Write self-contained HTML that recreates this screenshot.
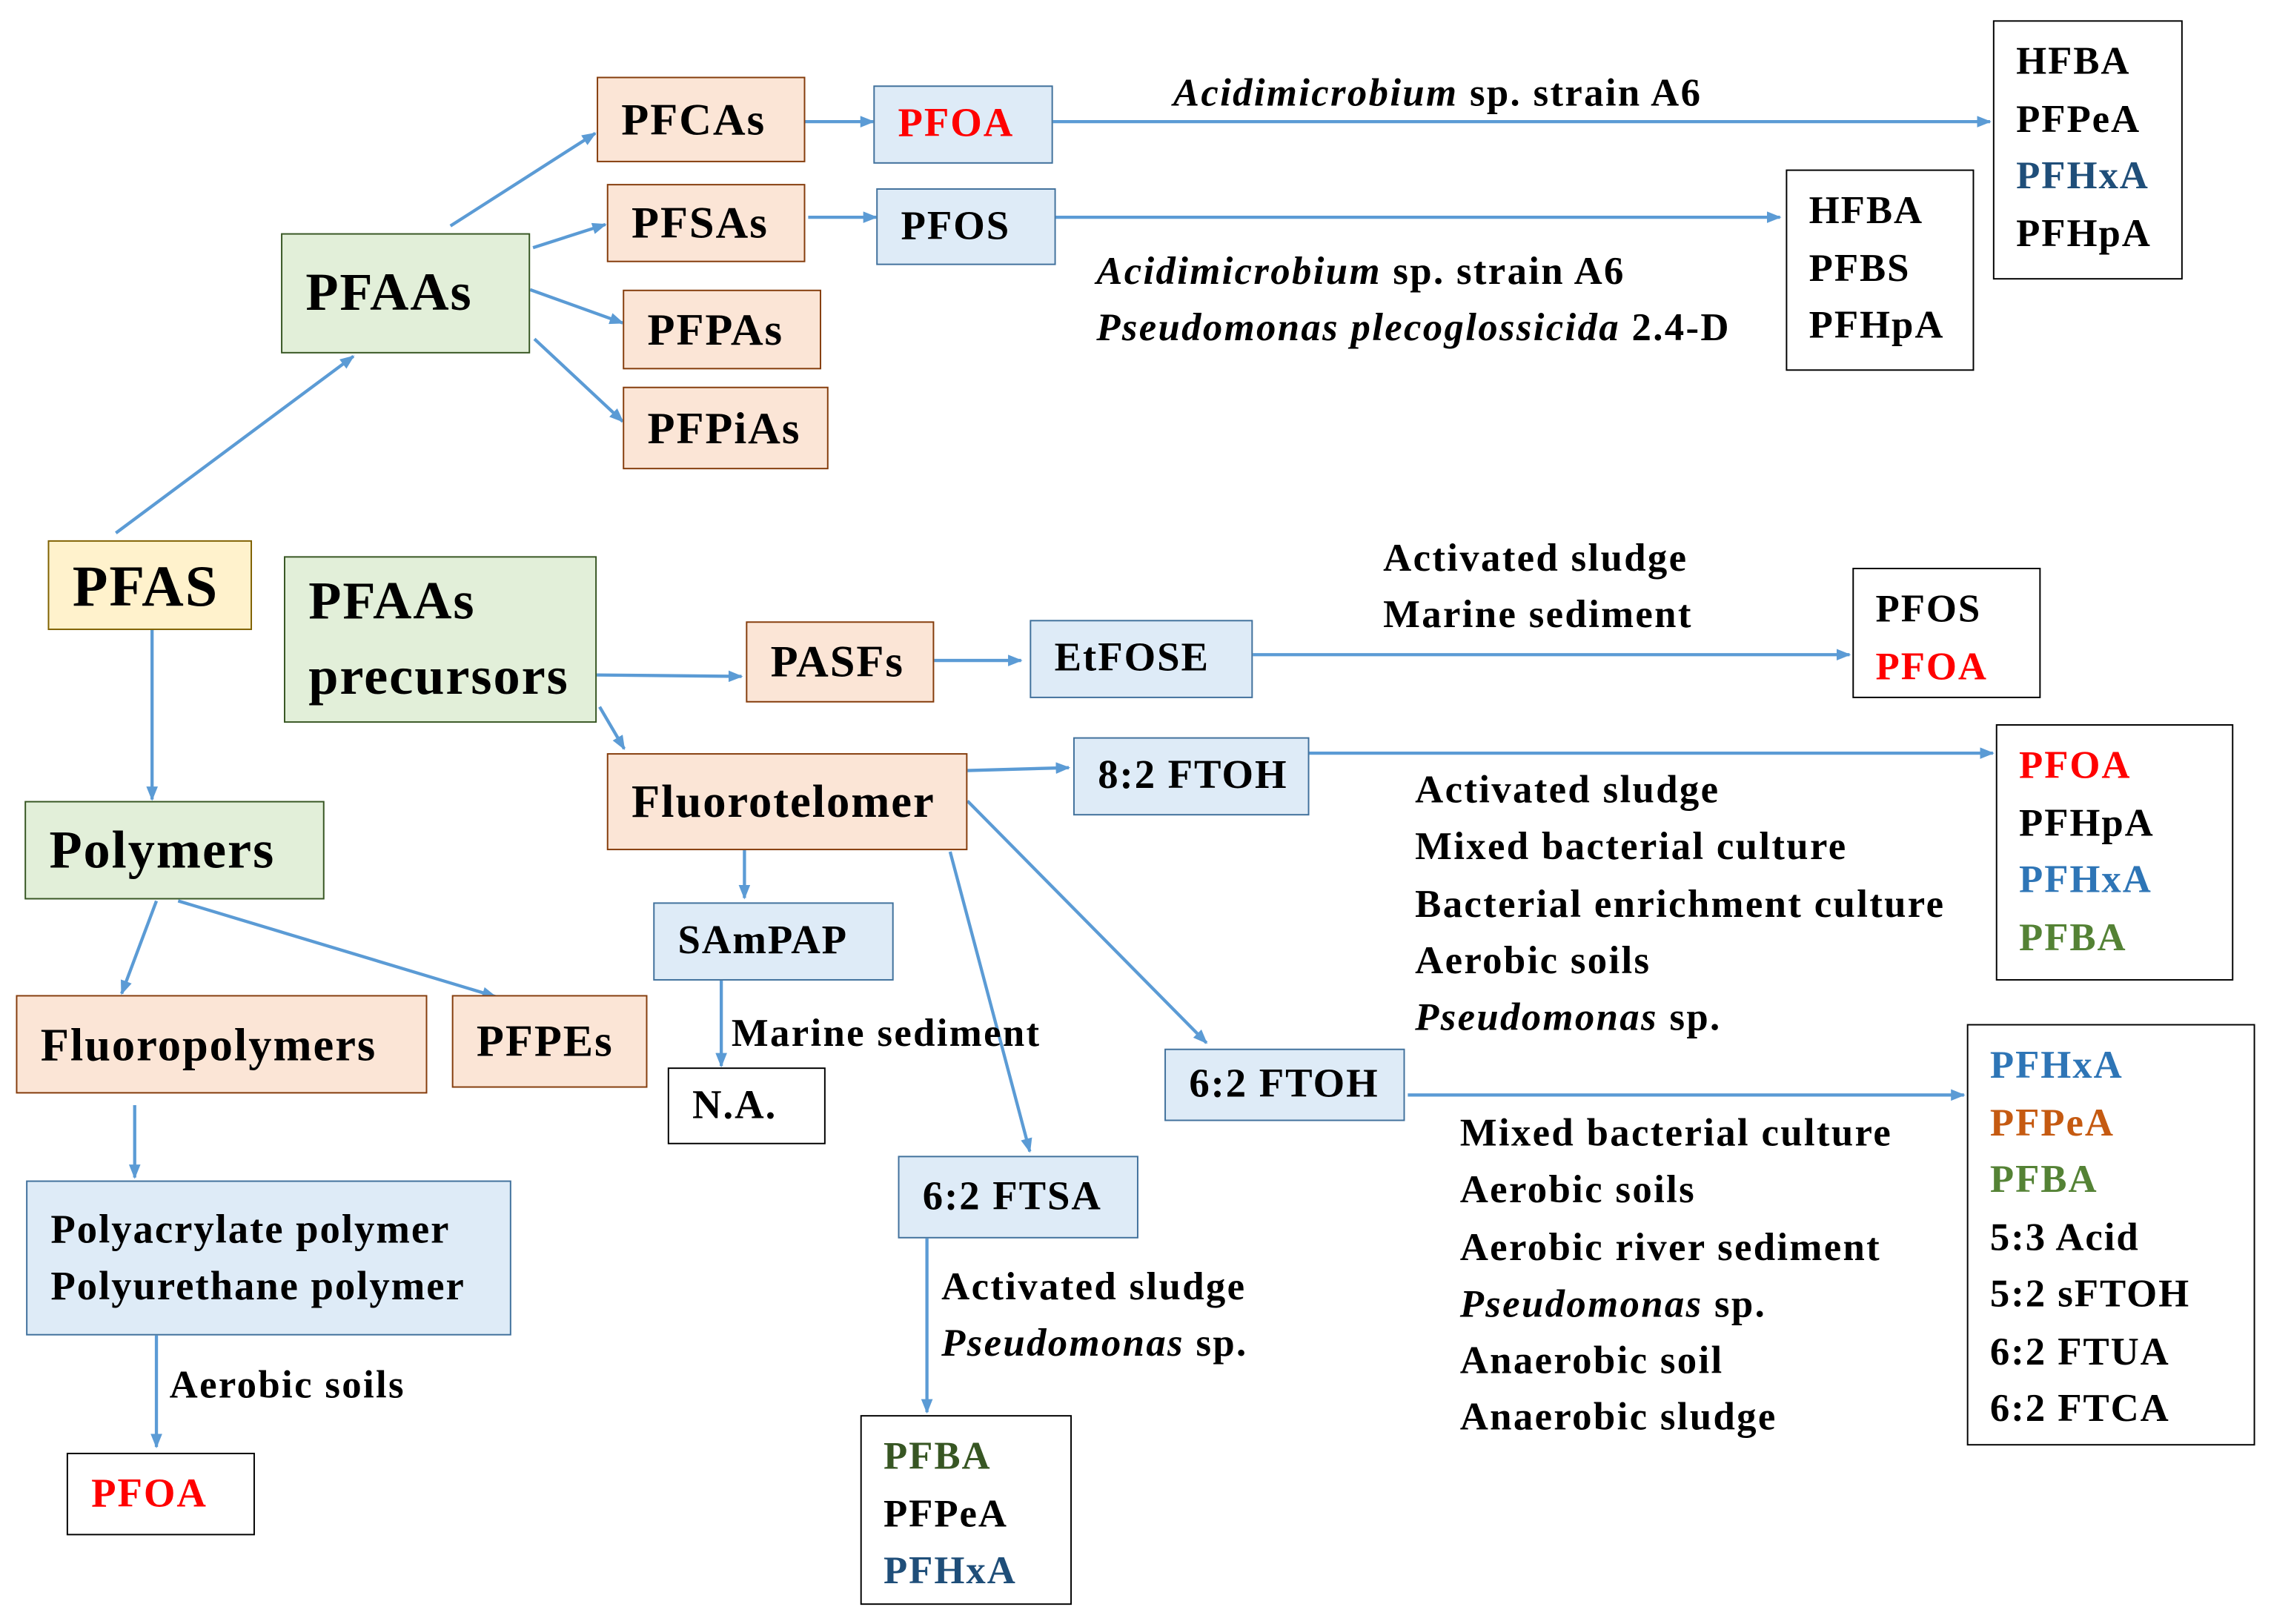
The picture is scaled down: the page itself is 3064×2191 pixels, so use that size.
<!DOCTYPE html>
<html><head><meta charset="utf-8"><style>
html,body{margin:0;padding:0;background:#fff;}
body{width:3064px;height:2191px;overflow:hidden;}
#s{position:absolute;left:0;top:0;width:1568px;height:1121px;transform:scale(1.9541);transform-origin:0 0;font-family:"Liberation Serif",serif;font-weight:bold;color:#000;}
.b{position:absolute;box-sizing:border-box;border:1.5px solid #000;display:flex;align-items:center;padding-left:16px;font-size:29px;white-space:nowrap;letter-spacing:1px;}
.p{background:#fbe5d6;border-color:#843c0c;}
.g{background:#e2efd9;border-color:#375623;}
.y{background:#fff2cc;border-color:#7f6000;}
.u{background:#deebf7;border-color:#41719c;}
.w{background:#fff;}
.r{position:absolute;box-sizing:border-box;border:1.5px solid #000;background:#fff;padding:8px 0 0 15px;font-size:27px;line-height:39.5px;white-space:nowrap;letter-spacing:1px;}
.t{position:absolute;font-size:27px;line-height:39.3px;white-space:nowrap;letter-spacing:1.2px;}
i{font-style:italic;}
svg{position:absolute;left:0;top:0;}
</style></head><body><div id="s">
<svg width="1568" height="1121"><defs><marker id="a" markerWidth="10" markerHeight="8" refX="9" refY="4" orient="auto" markerUnits="userSpaceOnUse"><path d="M0,0L10,4L0,8z" fill="#5b9bd5"/></marker></defs>
<g stroke="#5b9bd5" stroke-width="2.2" fill="none" marker-end="url(#a)">
<line x1="80" y1="368" x2="244" y2="246"/>
<line x1="311" y1="156" x2="411" y2="92"/>
<line x1="368" y1="171" x2="418" y2="155"/>
<line x1="366" y1="200" x2="430" y2="223"/>
<line x1="369" y1="234" x2="430" y2="291"/>
<line x1="556" y1="84" x2="603" y2="84"/>
<line x1="727" y1="84" x2="1374" y2="84"/>
<line x1="558" y1="150" x2="605" y2="150"/>
<line x1="729" y1="150" x2="1229" y2="150"/>
<line x1="105" y1="435" x2="105" y2="552"/>
<line x1="412" y1="466" x2="512" y2="467"/>
<line x1="414" y1="488" x2="431" y2="517"/>
<line x1="645" y1="456" x2="705" y2="456"/>
<line x1="865" y1="452" x2="1277" y2="452"/>
<line x1="668" y1="532" x2="738" y2="530"/>
<line x1="904" y1="520" x2="1376" y2="520"/>
<line x1="668" y1="553" x2="833" y2="720"/>
<line x1="656" y1="588" x2="711" y2="795"/>
<line x1="514" y1="587" x2="514" y2="620"/>
<line x1="498" y1="677" x2="498" y2="736"/>
<line x1="108" y1="622" x2="84" y2="686"/>
<line x1="123" y1="622" x2="342" y2="688"/>
<line x1="93" y1="763" x2="93" y2="813"/>
<line x1="108" y1="922" x2="108" y2="999"/>
<line x1="972" y1="756" x2="1356" y2="756"/>
<line x1="640" y1="855" x2="640" y2="975"/>
</g></svg>
<div class="b p" style="left:412px;top:53px;width:144px;height:59px;font-size:31px">PFCAs</div>
<div class="b u" style="left:603px;top:59px;width:124px;height:54px;color:#ff0000;font-size:28px">PFOA</div>
<div class="b p" style="left:419px;top:127px;width:137px;height:54px;font-size:31px">PFSAs</div>
<div class="b u" style="left:605px;top:130px;width:124px;height:53px;font-size:28px">PFOS</div>
<div class="b g" style="left:194px;top:161px;width:172px;height:83px;font-size:37px">PFAAs</div>
<div class="b p" style="left:430px;top:200px;width:137px;height:55px;font-size:31px">PFPAs</div>
<div class="b p" style="left:430px;top:267px;width:142px;height:57px;font-size:31px">PFPiAs</div>
<div class="b y" style="left:33px;top:373px;width:141px;height:62px;font-size:40px">PFAS</div>
<div class="b g" style="left:196px;top:384px;width:216px;height:115px;font-size:37px;line-height:52px">PFAAs<br>precursors</div>
<div class="b p" style="left:515px;top:429px;width:130px;height:56px;font-size:31px">PASFs</div>
<div class="b u" style="left:711px;top:428px;width:154px;height:54px;font-size:28px">EtFOSE</div>
<div class="b p" style="left:419px;top:520px;width:249px;height:67px;font-size:32px">Fluorotelomer</div>
<div class="b u" style="left:741px;top:509px;width:163px;height:54px;font-size:28px">8:2 FTOH</div>
<div class="b g" style="left:17px;top:553px;width:207px;height:68px;font-size:37px">Polymers</div>
<div class="b u" style="left:451px;top:623px;width:166px;height:54px;font-size:28px">SAmPAP</div>
<div class="b p" style="left:11px;top:687px;width:284px;height:68px;font-size:32px">Fluoropolymers</div>
<div class="b p" style="left:312px;top:687px;width:135px;height:64px;font-size:31px">PFPEs</div>
<div class="b w" style="left:461px;top:737px;width:109px;height:53px;font-size:28px">N.A.</div>
<div class="b u" style="left:804px;top:724px;width:166px;height:50px;font-size:28px">6:2 FTOH</div>
<div class="b u" style="left:620px;top:798px;width:166px;height:57px;font-size:28px">6:2 FTSA</div>
<div class="b u" style="left:18px;top:815px;width:335px;height:107px;font-size:28px;line-height:39px">Polyacrylate polymer<br>Polyurethane polymer</div>
<div class="b w" style="left:46px;top:1003px;width:130px;height:57px;color:#ff0000;font-size:28px">PFOA</div>
<div class="r" style="left:1376px;top:14px;width:131px;height:179px">HFBA<br>PFPeA<br><span style="color:#1f4e79">PFHxA</span><br>PFHpA</div>
<div class="r" style="left:1233px;top:117px;width:130px;height:139px">HFBA<br>PFBS<br>PFHpA</div>
<div class="r" style="left:1279px;top:392px;width:130px;height:90px">PFOS<br><span style="color:#ff0000">PFOA</span></div>
<div class="r" style="left:1378px;top:500px;width:164px;height:177px"><span style="color:#ff0000">PFOA</span><br>PFHpA<br><span style="color:#2e75b6">PFHxA</span><br><span style="color:#548235">PFBA</span></div>
<div class="r" style="left:1358px;top:707px;width:199px;height:291px"><span style="color:#2e75b6">PFHxA</span><br><span style="color:#c55a11">PFPeA</span><br><span style="color:#548235">PFBA</span><br>5:3 Acid<br>5:2 sFTOH<br>6:2 FTUA<br>6:2 FTCA</div>
<div class="r" style="left:594px;top:977px;width:146px;height:131px"><span style="color:#375623">PFBA</span><br>PFPeA<br><span style="color:#1f4e79">PFHxA</span></div>
<div class="t" style="left:810px;top:45px"><i>Acidimicrobium</i> sp. strain A6</div>
<div class="t" style="left:757px;top:168px"><i>Acidimicrobium</i> sp. strain A6<br><i>Pseudomonas plecoglossicida</i> 2.4-D</div>
<div class="t" style="left:955px;top:366px">Activated sludge<br>Marine sediment</div>
<div class="t" style="left:977px;top:526px">Activated sludge<br>Mixed bacterial culture<br>Bacterial enrichment culture<br>Aerobic soils<br><i>Pseudomonas</i> sp.</div>
<div class="t" style="left:505px;top:694px">Marine sediment</div>
<div class="t" style="left:1008px;top:763px">Mixed bacterial culture<br>Aerobic soils<br>Aerobic river sediment<br><i>Pseudomonas</i> sp.<br>Anaerobic soil<br>Anaerobic sludge</div>
<div class="t" style="left:650px;top:869px">Activated sludge<br><i>Pseudomonas</i> sp.</div>
<div class="t" style="left:117px;top:937px">Aerobic soils</div>
</div></body></html>
